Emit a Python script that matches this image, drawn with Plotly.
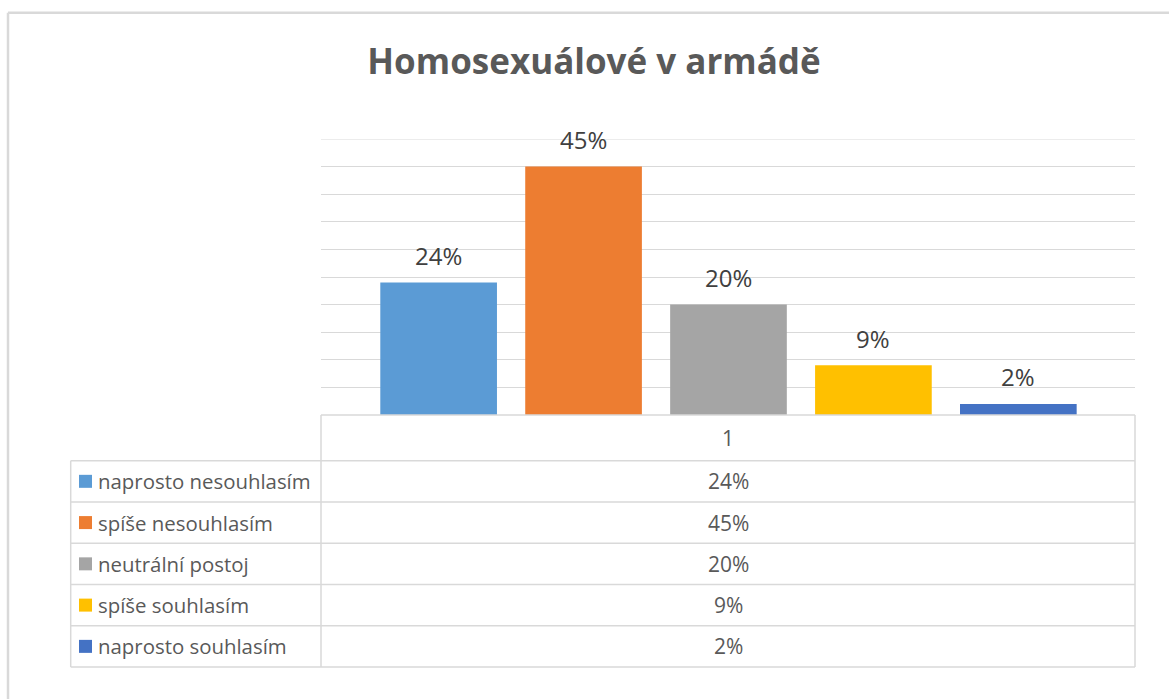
import plotly.graph_objects as go

# ---- data ----
categories = ["naprosto nesouhlasím", "spíše nesouhlasím", "neutrální postoj",
              "spíše souhlasím", "naprosto souhlasím"]
values = [24, 45, 20, 9, 2]
colors = ["#5B9BD5", "#ED7D31", "#A5A5A5", "#FFC000", "#4472C4"]
series_label = "1"
title_text = "Homosexuálové v armádě"
y_max = 50
y_step = 5

FONT = "Open Sans"
W, H = 1169, 699
# plot area in pixels
PL, PR, PT, PB = 321, 1135, 139.3, 415.3


def px(x):
    return (x - PL) / (PR - PL)


def py(y):
    return (PB - y) / (PB - PT)


fig = go.Figure()
fig.add_trace(go.Bar(
    x=categories, y=values,
    marker=dict(color=colors, line=dict(width=0)),
    width=0.805, showlegend=False, hoverinfo="skip",
))

annotations = []
# data labels above bars
for c, v in zip(categories, values):
    annotations.append(dict(
        x=c, y=v, xref="x", yref="y", text=f"{v}%", showarrow=False,
        yanchor="middle", yshift=27,
        font=dict(family=FONT, size=24, color="#404040"),
    ))

line_col = "#D9D9D9"
shapes = []
# top gridline (plotly omits grid lines on the range edge)
shapes.append(dict(type="line", xref="paper", yref="y", x0=0, x1=1,
                   y0=y_max, y1=y_max, line=dict(color=line_col, width=1),
                   layer="below"))

# ---- data table ----
header_top = PB
header_bot = 461.0
row_h = 41.26
n = len(categories)
row_edges = [header_bot + i * row_h for i in range(n + 1)]
tab_left = 70.7
leg_col_right = PL
tab_right = PR


def hline(x0, x1, y):
    shapes.append(dict(type="line", xref="paper", yref="paper",
                       x0=px(x0), x1=px(x1), y0=py(y), y1=py(y),
                       line=dict(color=line_col, width=1.5), layer="above"))


def vline(x, y0, y1):
    shapes.append(dict(type="line", xref="paper", yref="paper",
                       x0=px(x), x1=px(x), y0=py(y0), y1=py(y1),
                       line=dict(color=line_col, width=1.5), layer="above"))


hline(PL, tab_right, header_top)
for ye in row_edges:
    hline(tab_left, tab_right, ye)
vline(tab_left, row_edges[0], row_edges[-1])
vline(leg_col_right, header_top, row_edges[-1])
vline(tab_right, header_top, row_edges[-1])

val_x = (PL + PR) / 2
annotations.append(dict(
    x=px(val_x), y=py((header_top + header_bot) / 2), xref="paper", yref="paper",
    text=series_label, showarrow=False, xanchor="center", yanchor="middle",
    font=dict(family=FONT, size=21, color="#595959"),
))
for i, (c, v, col) in enumerate(zip(categories, values, colors)):
    yc = (row_edges[i] + row_edges[i + 1]) / 2
    shapes.append(dict(type="rect", xref="paper", yref="paper",
                       x0=px(79), x1=px(92), y0=py(yc + 6.5), y1=py(yc - 6.5),
                       fillcolor=col, line=dict(width=0), layer="above"))
    annotations.append(dict(
        x=px(96), y=py(yc), xref="paper", yref="paper", text=c,
        showarrow=False, xanchor="left", yanchor="middle",
        font=dict(family=FONT, size=20.4, color="#595959"),
    ))
    annotations.append(dict(
        x=px(val_x), y=py(yc), xref="paper", yref="paper", text=f"{v}%",
        showarrow=False, xanchor="center", yanchor="middle",
        font=dict(family=FONT, size=21, color="#595959"),
    ))

# outer chart frame (only top and left edges visible)
shapes.append(dict(type="line", xref="paper", yref="paper",
                   x0=px(8), x1=px(1200), y0=py(13), y1=py(13),
                   line=dict(color="#D9D9D9", width=2.5), layer="above"))
shapes.append(dict(type="line", xref="paper", yref="paper",
                   x0=px(8), x1=px(8), y0=py(13), y1=py(720),
                   line=dict(color="#D9D9D9", width=2.5), layer="above"))

fig.update_layout(
    width=W, height=H,
    margin=dict(l=PL, r=W - PR, t=PT, b=H - PB, pad=0),
    paper_bgcolor="white", plot_bgcolor="white",
    title=dict(text=f"<b>{title_text}</b>", x=594 / W, xanchor="center",
               xref="container", y=1 - 62 / H, yref="container", yanchor="middle",
               font=dict(family=FONT, size=35, color="#595959")),
    xaxis=dict(type="category", range=[-0.8117, 4.805], showticklabels=False,
               showgrid=False, zeroline=False, showline=False, ticks=""),
    yaxis=dict(range=[0, y_max], dtick=y_step, showticklabels=False, showgrid=True,
               gridcolor=line_col, gridwidth=1, zeroline=False, showline=False,
               ticks=""),
    bargap=0.195,
    shapes=shapes,
    annotations=annotations,
    font=dict(family=FONT),
)

fig.write_html("out.html",
               config={"displayModeBar": False},
               post_script="document.body.style.margin='0';document.body.style.overflow='hidden';")
